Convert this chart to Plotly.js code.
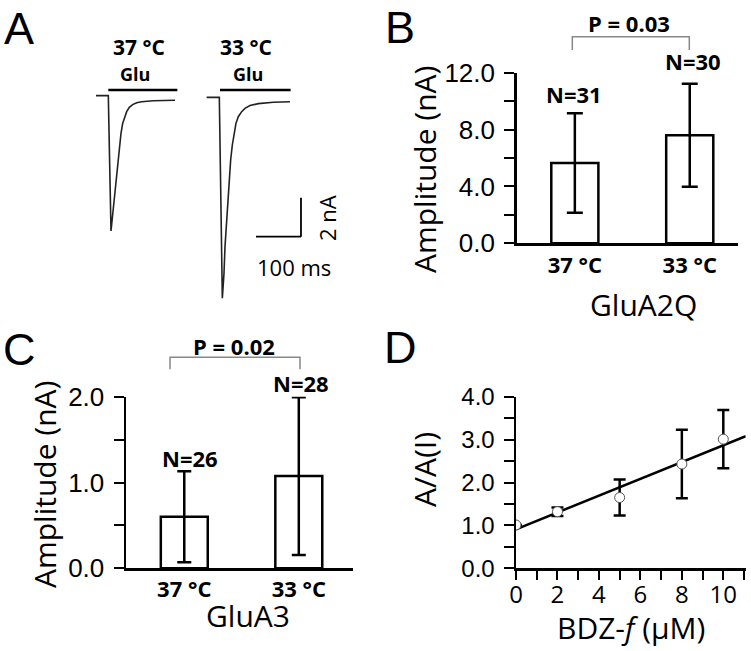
<!DOCTYPE html>
<html>
<head>
<meta charset="utf-8">
<script src="https://cdn.plot.ly/plotly-3.0.1.min.js"></script>
<style>html,body{margin:0;padding:0;background:#fff}#chart{width:751px;height:651px}</style>
</head>
<body>
<div id="chart"></div>
<script>
// ---------- Panel A: example current traces (time in ms, current in nA) ----------
const trace37Time = [13.3, 40.7, 46.7, 50.4, 54.1, 58.5, 62.2, 65.2, 68.9, 72.6, 77.0, 81.5, 87.4, 94.8, 103.7, 114.8, 140.7, 188.9];
const trace37Cur  = [0.07, 0.07, -6.87, -5.97, -5.11, -4.26, -3.40, -2.55, -1.86, -1.35, -1.01, -0.75, -0.53, -0.39, -0.29, -0.24, -0.19, -0.17];
const trace33Time = [259.2, 287.4, 294.1, 297.8, 300.0, 303.7, 306.7, 309.6, 312.6, 316.3, 320.0, 324.4, 329.6, 337.0, 344.4, 355.5, 374.0, 407.4, 444.4];
const trace33Cur  = [-0.02, -0.02, -10.32, -9.04, -7.68, -6.31, -5.11, -4.09, -3.23, -2.46, -1.86, -1.35, -1.01, -0.75, -0.58, -0.44, -0.34, -0.27, -0.24];
const gluStart = [40.7, 288.9];
const gluEnd   = [194.1, 445.9];
const gluLevel = 0.36;
const scaleBarTime = [368.9, 468.9];   // 100 ms
const scaleBarCur  = [-7.16, -5.16];   // 2 nA

// ---------- Panel B: GluA2Q amplitude ----------
const tempLabels = ['37 °C', '33 °C'];
const glua2qMean = [5.65, 7.6];
const glua2qErr  = [3.5, 3.62];
const glua2qN    = ['N=31', 'N=30'];
const glua2qP    = 'P = 0.03';

// ---------- Panel C: GluA3 amplitude ----------
const glua3Mean = [0.6, 1.075];
const glua3Err  = [0.53, 0.92];
const glua3N    = ['N=26', 'N=28'];
const glua3P    = 'P = 0.02';

// ---------- Panel D: BDZ-f dose ----------
const bdzConc = [0, 2, 5, 8, 10];
const bdzRatio = [1.01, 1.32, 1.65, 2.43, 3.01];
const bdzErr   = [0, 0.1, 0.42, 0.8, 0.68];
const fitX = [0, 11.08];
const fitY = [0.91, 3.08];

const W = 751, H = 651;
const px = (x) => x / W;
const py = (y) => 1 - y / H;
const F = 'Open Sans, sans-serif';
const FT = 'Liberation Sans, Arial, sans-serif';

const traces = [
  {x: trace37Time, y: trace37Cur, xaxis: 'x', yaxis: 'y', mode: 'lines', line: {color: '#222', width: 1.6}, showlegend: false, hoverinfo: 'skip'},
  {x: trace33Time, y: trace33Cur, xaxis: 'x', yaxis: 'y', mode: 'lines', line: {color: '#222', width: 1.6}, showlegend: false, hoverinfo: 'skip'},
  {type: 'bar', x: [0, 1], y: glua2qMean, xaxis: 'x2', yaxis: 'y2', width: 0.41,
   marker: {color: 'white', line: {color: 'black', width: 2.5}},
   error_y: {type: 'data', array: glua2qErr, visible: true, color: 'black', thickness: 2.5, width: 8},
   showlegend: false},
  {type: 'bar', x: [0, 1], y: glua3Mean, xaxis: 'x3', yaxis: 'y3', width: 0.41,
   marker: {color: 'white', line: {color: 'black', width: 2.5}},
   error_y: {type: 'data', array: glua3Err, visible: true, color: 'black', thickness: 2.5, width: 7},
   showlegend: false},
  {x: fitX, y: fitY, xaxis: 'x4', yaxis: 'y4', mode: 'lines', line: {color: 'black', width: 2.5}, showlegend: false},
  {x: bdzConc, y: bdzRatio, xaxis: 'x4', yaxis: 'y4', mode: 'markers', cliponaxis: true,
   marker: {symbol: 'circle', size: 10, color: 'white', line: {color: '#555', width: 1}},
   error_y: {type: 'data', array: bdzErr, visible: true, color: 'black', thickness: 2.5, width: 6},
   showlegend: false}
];

const shapes = [];
for (let i = 0; i < gluStart.length; i++) {
  shapes.push({type: 'line', xref: 'x', yref: 'y', x0: gluStart[i], x1: gluEnd[i], y0: gluLevel, y1: gluLevel, line: {color: 'black', width: 2.5}});
}
shapes.push({type: 'line', xref: 'x', yref: 'y', x0: scaleBarTime[1], x1: scaleBarTime[1], y0: scaleBarCur[0], y1: scaleBarCur[1], line: {color: 'black', width: 1.8}});
shapes.push({type: 'line', xref: 'x', yref: 'y', x0: scaleBarTime[0], x1: scaleBarTime[1], y0: scaleBarCur[0], y1: scaleBarCur[0], line: {color: 'black', width: 1.8}});
// significance brackets (paper coords)
function bracket(x0, x1, yTop, yBot) {
  return {type: 'path', xref: 'paper', yref: 'paper',
    path: `M ${px(x0)} ${py(yBot)} L ${px(x0)} ${py(yTop)} L ${px(x1)} ${py(yTop)} L ${px(x1)} ${py(yBot)}`,
    line: {color: '#888', width: 1.5}};
}
shapes.push(bracket(572.3, 689.3, 36.7, 50));
shapes.push(bracket(170, 300, 357.3, 369.3));

function ann(text, x, y, size, opts) {
  return Object.assign({text: text, x: px(x), y: py(y), xref: 'paper', yref: 'paper', showarrow: false,
    xanchor: 'center', yanchor: 'middle', font: {family: F, size: size, color: 'black'}}, opts || {});
}
const letterFont = {family: 'Liberation Sans, Arial, sans-serif', size: 45, color: 'black'};
const annotations = [
  ann('A', 19, 1, 45, {yanchor: 'top', font: letterFont}),
  ann('B', 400, 0, 45, {yanchor: 'top', font: letterFont}),
  ann('C', 19, 322, 45, {yanchor: 'top', font: letterFont}),
  ann('D', 400, 320, 45, {yanchor: 'top', font: letterFont}),
  ann('<b>' + tempLabels[0] + '</b>', 139, 47, 21), ann('<b>Glu</b>', 135, 74, 18),
  ann('<b>' + tempLabels[1] + '</b>', 246, 47, 21), ann('<b>Glu</b>', 248, 74, 18),
  ann('2 nA', 327, 218, 22, {textangle: -90}), ann('100 ms', 294, 266.7, 22),
  ann('<b>' + glua2qP + '</b>', 629, 22.5, 22), ann('<b>' + glua2qN[0] + '</b>', 574, 93.7, 22), ann('<b>' + glua2qN[1] + '</b>', 693, 60.8, 22),
  ann('GluA2Q', 643, 304, 30), ann('Amplitude (nA)', 424, 170, 30, {textangle: -90}),
  ann('<b>' + glua3P + '</b>', 233.7, 345.7, 22), ann('<b>' + glua3N[0] + '</b>', 190, 458.3, 22), ann('<b>' + glua3N[1] + '</b>', 300.5, 383.3, 22),
  ann('GluA3', 247.5, 615, 30), ann('Amplitude (nA)', 44, 485, 30, {textangle: -90}),
  ann('BDZ-<i>f</i> (μM)', 631, 650, 30, {yanchor: 'bottom'}), ann('A/A(I)', 425, 470, 30, {textangle: -90})
];

const axLine = {showline: true, linecolor: 'black', linewidth: 2.5, showgrid: false, zeroline: false, fixedrange: true};
const layout = {
  width: W, height: H, margin: {l: 0, r: 0, t: 0, b: 0},
  paper_bgcolor: 'white', plot_bgcolor: 'rgba(0,0,0,0)', showlegend: false,
  xaxis: {domain: [px(90), px(340)], range: [0, 555.6], visible: false, anchor: 'y'},
  yaxis: {domain: [py(310), py(80)], range: [-10.92, 0.872], visible: false, anchor: 'x'},
  xaxis2: Object.assign({}, axLine, {domain: [px(516.7), px(738)], range: [-0.506, 1.42], anchor: 'y2',
    tickvals: [0, 1], ticktext: tempLabels.map(t => '<b>' + t + '</b>'), ticks: '', ticklabelstandoff: 1,
    tickfont: {family: F, size: 22, color: 'black'}}),
  yaxis2: Object.assign({}, axLine, {domain: [py(243.3), py(72.7)], range: [0, 12], anchor: 'x2',
    tickvals: [0, 2, 4, 6, 8, 10, 12], ticktext: ['0.0', '', '4.0', '', '8.0', '', '12.0'],
    ticks: 'outside', ticklen: 10, tickwidth: 2, tickcolor: 'black', ticklabelstandoff: 4,
    tickfont: {family: FT, size: 26, color: 'black'}}),
  xaxis3: Object.assign({}, axLine, {domain: [px(126), px(353.3)], range: [-0.509, 1.476], anchor: 'y3',
    tickvals: [0, 1], ticktext: tempLabels.map(t => '<b>' + t + '</b>'), ticks: '', ticklabelstandoff: 0,
    tickfont: {family: F, size: 22, color: 'black'}}),
  yaxis3: Object.assign({}, axLine, {domain: [py(568.3), py(396.7)], range: [0, 2], anchor: 'x3',
    tickvals: [0, 0.5, 1, 1.5, 2], ticktext: ['0.0', '', '1.0', '', '2.0'],
    ticks: 'outside', ticklen: 10, tickwidth: 2, tickcolor: 'black', ticklabelstandoff: 4,
    tickfont: {family: FT, size: 26, color: 'black'}}),
  xaxis4: Object.assign({}, axLine, {domain: [px(516), px(745.7)], range: [0, 11.08], anchor: 'y4',
    tickvals: [0,1,2,3,4,5,6,7,8,9,10,11], ticktext: ['0','','2','','4','','6','','8','','10',''],
    ticks: 'outside', ticklen: 9, tickwidth: 2, tickcolor: 'black', ticklabelstandoff: -6,
    tickfont: {family: F, size: 24, color: 'black'}}),
  yaxis4: Object.assign({}, axLine, {domain: [py(568.3), py(396.7)], range: [0, 4], anchor: 'x4',
    tickvals: [0, 0.5, 1, 1.5, 2, 2.5, 3, 3.5, 4], ticktext: ['0.0','','1.0','','2.0','','3.0','','4.0'],
    ticks: 'outside', ticklen: 10, tickwidth: 2, tickcolor: 'black', ticklabelstandoff: 4,
    tickfont: {family: FT, size: 24, color: 'black'}}),
  shapes: shapes,
  annotations: annotations
};

Plotly.newPlot('chart', traces, layout, {staticPlot: true, displayModeBar: false});
</script>
</body>
</html>
